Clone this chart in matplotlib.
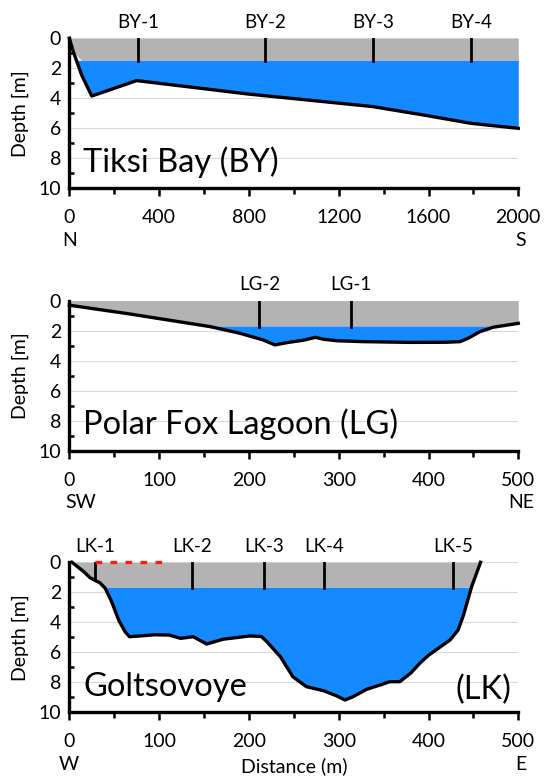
import matplotlib
matplotlib.use('Agg')
import matplotlib.pyplot as plt
import numpy as np
from matplotlib.ticker import MultipleLocator

plt.rcParams['font.family'] = ['Lato', 'DejaVu Sans']

# Tiksi Bay (BY) profile, distance [m] / depth [m]
by_dist = [0, 18, 55, 100, 300, 800, 1350, 1580, 1790, 2000]
by_depth = [0, 0.9, 2.45, 3.85, 2.82, 3.72, 4.55, 5.12, 5.67, 6.0]
by_ice = 1.47
by_stations = [305, 872, 1353, 1788]
by_names = ['BY-1', 'BY-2', 'BY-3', 'BY-4']

# Polar Fox Lagoon (LG)
lg_dist = [0, 68, 157, 190, 216, 229, 242, 262, 274, 283, 298, 327, 380,
           420, 435, 444, 457, 472, 500]
lg_depth = [0.3, 0.89, 1.73, 2.17, 2.62, 2.95, 2.8, 2.62, 2.44, 2.57, 2.67,
            2.73, 2.78, 2.77, 2.73, 2.51, 2.07, 1.77, 1.51]
lg_ice = 1.69
lg_stations = [211.6, 313.4]
lg_names = ['LG-2', 'LG-1']

# Goltsovoye (LK)
lk_dist = [3, 16, 23, 29, 34, 40, 47, 55, 62, 67, 79, 95, 111, 124, 138,
           153, 171, 201, 214, 220, 235, 249, 264, 283, 298, 307, 316, 331,
           346, 357, 368, 380, 391, 400, 411, 424, 433, 439, 448, 458]
lk_depth = [0, 0.62, 1.02, 1.22, 1.36, 1.73, 2.6, 3.85, 4.62, 4.96, 4.91,
            4.83, 4.85, 5.07, 4.96, 5.45, 5.13, 4.91, 4.95, 5.29, 6.29, 7.63,
            8.29, 8.56, 8.91, 9.18, 8.96, 8.47, 8.18, 7.96, 7.96, 7.4, 6.69,
            6.2, 5.73, 5.18, 4.51, 3.51, 1.63, 0]
lk_ice = 1.67
lk_stations = [28.6, 136.3, 216.4, 283.6, 427.6]
lk_names = ['LK-1', 'LK-2', 'LK-3', 'LK-4', 'LK-5']
lk_red = [28.6, 103]

GRAY = '#b3b3b3'
BLUE = '#1589ff'

fig = plt.figure(figsize=(5.45, 7.76), dpi=100)
L, W = 69.3 / 545, 449 / 545


def panel(top_px, dist, depth, ice, stations, names, xmax, xmaj,
          title, left_dir, right_dir, left_dir_x):
    ax = fig.add_axes([L, 1 - (top_px + 150) / 776, W, 150 / 776])
    x = np.array(dist, float)
    d = np.array(depth, float)
    ax.fill_between(x, 0, np.minimum(d, ice), color=GRAY, lw=0)
    ax.fill_between(x, ice, d, where=d > ice, interpolate=True,
                    color=BLUE, lw=0)
    ax.plot(x, d, color='black', lw=2.4, clip_on=False, zorder=4,
            solid_joinstyle='round')
    for s, n in zip(stations, names):
        end = min(ice + 0.06, np.interp(s, x, d))
        ax.plot([s, s], [0, end], color='black', lw=2.0, zorder=5)
        ax.text(s, -0.7, n, ha='center', va='baseline', fontsize=13.5)

    ax.set_xlim(0, xmax)
    ax.set_ylim(10, 0)
    ax.set_yticks(range(0, 11, 2))
    ax.yaxis.set_minor_locator(MultipleLocator(1))
    ax.xaxis.set_major_locator(MultipleLocator(xmaj))
    ax.xaxis.set_minor_locator(MultipleLocator(xmaj / 2))
    ax.grid(axis='y', color='#d9d9d9', lw=0.8, zorder=0)
    ax.set_axisbelow(True)
    for sp in ['top', 'right']:
        ax.spines[sp].set_visible(False)
    for sp in ['left', 'bottom']:
        ax.spines[sp].set_linewidth(2.4)
        ax.spines[sp].set_zorder(6)
    ax.tick_params(axis='y', which='major', length=0, pad=6, labelsize=14)
    ax.tick_params(axis='y', which='minor', direction='in', length=3.5,
                   width=1.8)
    ax.tick_params(axis='x', which='major', direction='out', length=6,
                   width=1.8, pad=9, labelsize=14)
    ax.tick_params(axis='x', which='minor', direction='out', length=4,
                   width=1.8)
    ax.set_ylabel('Depth [m]', fontsize=14, labelpad=7)
    ax.annotate(left_dir, (left_dir_x, 0), xycoords=('data', 'axes fraction'),
                xytext=(0, -37.5), textcoords='offset points',
                ha='center', va='center', fontsize=14)
    ax.annotate(right_dir, (xmax, 0), xycoords=('data', 'axes fraction'),
                xytext=(2, -37.5), textcoords='offset points',
                ha='center', va='center', fontsize=14)
    ax.text(0.031, 8.9, title, transform=ax.get_yaxis_transform(),
            fontsize=23.5, va='baseline', ha='left')
    return ax


panel(38.3, by_dist, by_depth, by_ice, by_stations, by_names, 2000, 400,
      'Tiksi Bay (BY)', 'N', 'S', 0)
panel(300.7, lg_dist, lg_depth, lg_ice, lg_stations, lg_names, 500, 100,
      'Polar Fox Lagoon (LG)', 'SW', 'NE', 13)
ax3 = panel(562.3, lk_dist, lk_depth, lk_ice, lk_stations, lk_names, 500, 100,
            'Goltsovoye', 'W', 'E', 0)
ax3.text(0.985, 9.1, '(LK)', transform=ax3.get_yaxis_transform(),
         fontsize=23.5, va='baseline', ha='right')
ax3.plot(lk_red, [0, 0], color='#ff1a1a', lw=2.4, ls=(0, (2, 2.5)),
         clip_on=False, zorder=7)
ax3.annotate('Distance (m)', (0.5, 0), xycoords='axes fraction',
             xytext=(0, -38.5), textcoords='offset points',
             ha='center', va='center', fontsize=14)

fig.savefig('out.png', dpi=100)
